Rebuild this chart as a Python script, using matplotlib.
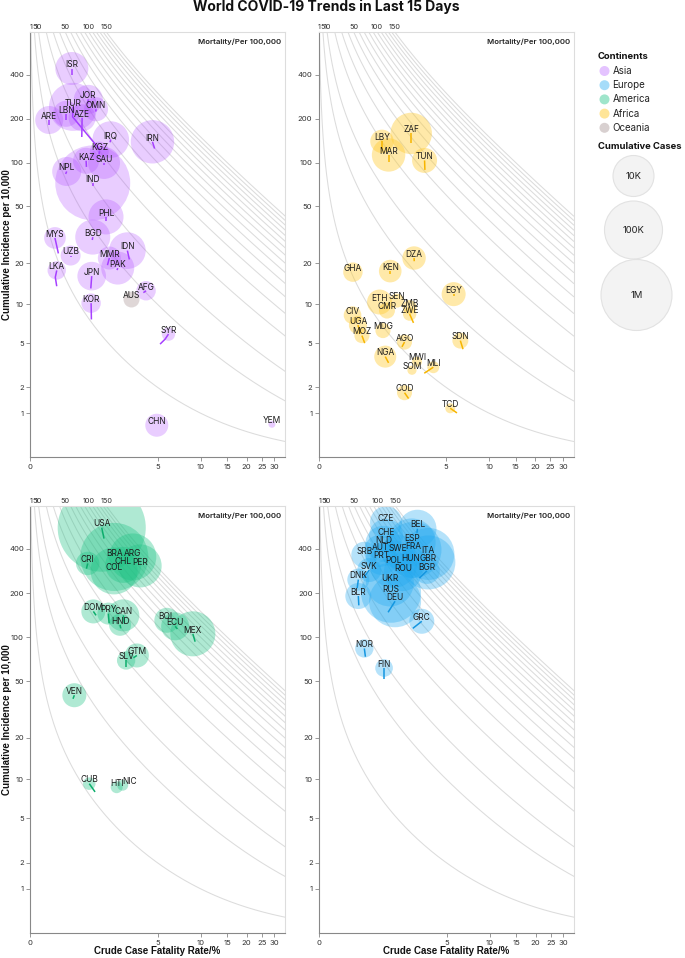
import numpy as np
import matplotlib
matplotlib.use("Agg")
import matplotlib.pyplot as plt
from matplotlib.patches import Circle

plt.rcParams['font.family'] = ['Inter', 'DejaVu Sans']

# ------------------------------------------------------------------ data
asia_codes = ["ISR", "JOR", "TUR", "OMN", "LBN", "AZE", "ARE", "IRQ", "IRN", "KGZ",
              "KAZ", "SAU", "NPL", "IND", "PHL", "MYS", "BGD", "UZB", "IDN", "MMR",
              "PAK", "LKA", "JPN", "AFG", "KOR", "SYR", "CHN", "YEM"]
asia_cfr = [0.80, 1.27, 0.83, 1.53, 0.66, 1.08, 0.31, 2.11, 4.59, 1.65,
            1.20, 1.83, 0.675, 1.415, 1.91, 0.42, 1.415, 0.77, 2.93, 2.05,
            2.43, 0.456, 1.38, 4.11, 1.36, 6.0, 4.94, 28.96]
asia_inc = [440, 271, 241, 232, 216, 203, 196, 144, 139, 120,
            103, 99.6, 87, 72.6, 42.2, 30.1, 30.5, 22.6, 24.5, 21.7,
            18.4, 17.7, 16.1, 12.6, 10.2, 5.9, 0.657, 0.682]
asia_cases = [430000, 273000, 1620000, 140000, 186000, 212000, 241000, 620000, 1130000, 61000,
              186000, 386000, 273000, 7800000, 530000, 97000, 530000, 73000, 620000, 120000,
              430000, 54000, 260000, 66000, 66000, 18000, 120000, 1800]
asia_cfr0 = [0.80, 1.245, 1.68, 1.52, 0.66, 1.07, 0.31, 2.08, 4.76, 1.64,
             1.21, 1.83, 0.65, 1.415, 1.91, 0.49, 1.40, 0.77, 3.04, 1.97,
             2.40, 0.456, 1.35, 3.92, 1.37, 5.22, 4.94, 28.96]
asia_inc0 = [398, 253, 122, 224, 196, 150, 182, 138, 125, 114,
             93.5, 95.9, 83.7, 69, 39.5, 23.4, 29.1, 22.0, 21.2, 19.3,
             17.8, 13.6, 13.1, 12.2, 7.68, 4.9, 0.657, 0.682]

oceania_codes = ["AUS"]
oceania_cfr = [3.16]
oceania_inc = [10.94]
oceania_cases = [33000]
oceania_cfr0 = [3.16]
oceania_inc0 = [10.94]

africa_codes = ["ZAF", "LBY", "MAR", "TUN", "DZA", "GHA", "KEN", "EGY", "ETH", "SEN",
                "CMR", "ZMB", "ZWE", "CIV", "UGA", "MOZ", "MDG", "AGO", "SDN", "NGA",
                "MWI", "MLI", "SOM", "COD", "TCD"]
africa_cfr = [2.68, 1.44, 1.677, 3.44, 2.83, 0.622, 1.74, 5.68, 1.358, 2.01,
              1.617, 2.6, 2.6, 0.613, 0.74, 0.841, 1.474, 2.35, 6.34, 1.555,
              2.99, 4.02, 2.72, 2.35, 5.37]
africa_inc = [158.6, 140, 113, 103.6, 21.7, 17.2, 17.5, 11.9, 10.4, 10.66,
              8.97, 9.53, 8.44, 8.29, 6.94, 5.74, 6.29, 5.09, 5.23, 3.85,
              3.48, 3.11, 2.92, 1.757, 1.162]
africa_cases = [960000, 128000, 450000, 161000, 128000, 66000, 113000, 140000, 161000, 21000,
                33000, 21000, 18000, 47000, 51000, 27000, 27000, 27000, 33000, 103000,
                6400, 12000, 4700, 27000, 6400]
africa_cfr0 = [2.68, 1.44, 1.677, 3.46, 2.84, 0.622, 1.74, 5.68, 1.358, 2.01,
               1.617, 2.6, 2.80, 0.613, 0.81, 0.915, 1.474, 2.23, 6.62, 1.677,
               2.99, 3.42, 2.72, 2.546, 6.0]
africa_inc0 = [136.7, 125, 101, 89.2, 20.6, 17.2, 16.8, 11.5, 10.4, 10.66,
               8.97, 9.53, 7.23, 8.29, 6.0, 4.99, 6.29, 4.65, 4.45, 3.4,
               3.48, 2.74, 2.92, 1.517, 1.009]

america_codes = ["USA", "BRA", "ARG", "CHL", "PER", "COL", "CRI", "DOM", "PRY", "CAN",
                 "HND", "BOL", "ECU", "MEX", "GTM", "SLV", "VEN", "CUB", "HTI", "NIC"]
america_cfr = [1.74, 2.27, 3.24, 2.71, 3.70, 2.26, 1.25, 1.436, 2.01, 2.71,
               2.546, 5.84, 6.69, 8.86, 3.49, 2.86, 0.865, 1.30, 2.38, 2.68]
america_inc = [556, 352, 352, 311, 306, 283, 318, 150, 145, 141,
               121.6, 130.5, 118.7, 105.5, 75, 69.3, 39.9, 9.3, 8.75, 9.06]
america_cases = [13800000, 5560000, 1500000, 587000, 1100000, 1500000, 128000, 140000, 103000, 386000,
                 103000, 161000, 241000, 1290000, 140000, 54000, 140000, 14000, 12000, 8900]
america_cfr0 = [1.83, 2.27, 3.24, 2.71, 3.70, 2.26, 1.21, 1.53, 2.04, 2.76,
                2.58, 5.84, 6.94, 9.18, 3.28, 2.86, 0.83, 1.495, 2.38, 2.68]
america_inc0 = [469, 352, 352, 311, 306, 283, 293, 141, 124.5, 124.5,
                115, 130.5, 113.8, 93.2, 72.3, 62.7, 37.7, 8.06, 8.75, 9.06]

europe_codes = ["CZE", "BEL", "CHE", "NLD", "ESP", "AUT", "SWE", "FRA", "SRB", "ITA",
                "PRT", "HUN", "GBR", "POL", "ROU", "BGR", "SVK", "DNK", "UKR", "BLR",
                "RUS", "DEU", "GRC", "NOR", "FIN"]
europe_cfr = [1.566, 2.99, 1.566, 1.47, 2.68, 1.358, 2.05, 2.77, 0.891, 3.65,
              1.415, 2.6, 3.65, 1.84, 2.245, 3.55, 1.028, 0.738, 1.71, 0.738,
              1.753, 1.912, 3.24, 0.891, 1.495]
europe_inc = [606, 547, 490, 432, 442, 387, 381, 393, 364, 369,
              341, 323, 323, 315, 278, 283, 287, 247, 236, 191,
              201, 176, 128.5, 83.8, 61.5]
europe_cases = [386000, 708000, 477000, 587000, 1600000, 386000, 477000, 2800000, 186000, 2150000,
                386000, 386000, 2450000, 1600000, 708000, 186000, 140000, 103000, 1600000, 186000,
                3550000, 2150000, 161000, 54000, 47000]
europe_cfr0 = [1.566, 2.96, 1.566, 1.47, 2.68, 1.358, 2.05, 2.77, 0.891, 3.65,
               1.415, 2.6, 3.65, 1.84, 2.245, 3.10, 0.865, 0.71, 1.71, 0.75,
               1.753, 1.64, 2.74, 0.92, 1.495]
europe_inc0 = [606, 513, 490, 432, 442, 387, 381, 393, 364, 369,
               341, 323, 323, 315, 278, 253, 253, 216, 236, 165,
               201, 148, 115, 73.5, 52]

trail_mid = {"TUR": (0.82, 206), "LKA": (0.427, 15.8), "SYR": (5.68, 5.38)}
label_dx = {"NIC": 7}

mort_levels = [1, 5, 10, 20, 30, 40, 50, 60, 70, 80, 90, 100, 110, 120, 130, 140, 150]
mort_labels = [1, 5, 10, 50, 100, 150]

x_ticks = [0, 5, 10, 15, 20, 25, 30]
y_ticks = [1, 2, 5, 10, 20, 50, 100, 200, 400]

continents = ["Asia", "Europe", "America", "Africa", "Oceania"]
legend_sizes = ["10K", "100K", "1M"]

XMAX, YMAX = 35, 780

# ------------------------------------------------------------------ styles
COL = {
    "Asia": ("#b04dff", 0.28, "#a640ff"),
    "Europe": ("#1fa8f0", 0.33, "#1496e0"),
    "America": ("#1cc283", 0.35, "#0cae6c"),
    "Africa": ("#ffcc33", 0.42, "#f7b500"),
    "Oceania": ("#b8a8a8", 0.45, "#9a8a8a"),
}

W, H = 685, 958
fig = plt.figure(figsize=(W / 100, H / 100), dpi=100)


def px_axes(left, top, right, bottom):
    return fig.add_axes([left / W, 1 - bottom / H, (right - left) / W, (bottom - top) / H])


def radius_px(c):
    return 0.42 * np.asarray(c, dtype=float) ** 0.283


def setup(ax):
    ax.set_xscale('function', functions=(np.log1p, np.expm1))
    ax.set_yscale('function', functions=(np.log1p, np.expm1))
    ax.set_xlim(0, XMAX)
    ax.set_ylim(0, YMAX)
    ax.set_xticks(x_ticks)
    ax.set_xticklabels([str(t) for t in x_ticks])
    ax.set_yticks(y_ticks)
    ax.set_yticklabels([str(t) for t in y_ticks])
    ax.minorticks_off()
    ax.tick_params(length=3, width=0.6, color='#888888', labelsize=5.5,
                   labelcolor='#333333', pad=1.5)
    for s in ['top', 'right']:
        ax.spines[s].set_color('#dddddd')
        ax.spines[s].set_linewidth(0.8)
    for s in ['left', 'bottom']:
        ax.spines[s].set_color('#888888')
        ax.spines[s].set_linewidth(0.8)
    for m in mort_levels:
        x = np.geomspace(10 * m / YMAX * 0.999, XMAX * 1.001, 400)
        ax.plot(x, 10 * m / x, color='#dcdcdc', lw=0.75, zorder=1)
    for m in mort_labels:
        ax.annotate(str(m), (10 * m / YMAX, YMAX), xytext=(0, 1.5), textcoords='offset points',
                    ha='center', va='bottom', fontsize=5.3, color='#333333',
                    annotation_clip=False)
    ax.text(0.985, 0.985, "Mortality/Per 100,000", transform=ax.transAxes, ha='right',
            va='top', fontsize=5.6, fontweight='semibold', color='#222222')


def draw_group(ax, cont, codes, cfr, inc, cases, cfr0, inc0):
    fc, alpha, lc = COL[cont]
    r = radius_px(cases)
    s = (2 * r * 0.72) ** 2
    ax.scatter(cfr, inc, s=s, color=fc, alpha=alpha, linewidths=0, zorder=2)
    for i, code in enumerate(codes):
        xs = [cfr0[i]]
        ys = [inc0[i]]
        if code in trail_mid:
            xs.append(trail_mid[code][0])
            ys.append(trail_mid[code][1])
        xs.append(cfr[i])
        ys.append(inc[i])
        if abs(xs[0] - xs[-1]) > 1e-9 or abs(ys[0] - ys[-1]) > 1e-9:
            ax.plot(xs, ys, color=lc, lw=1.1, zorder=3, solid_capstyle='butt')
    for i, code in enumerate(codes):
        ax.annotate(code, (cfr[i], inc[i]), xytext=(label_dx.get(code, 0) * 0.72, 0.9),
                    textcoords='offset points', ha='center', va='baseline',
                    fontsize=6, color='#1a1a1a', zorder=5)


ax1 = px_axes(30, 32, 285, 457.5)
ax2 = px_axes(318.5, 32, 573.5, 457.5)
ax3 = px_axes(30, 506, 285, 933.3)
ax4 = px_axes(319, 506, 574, 933.3)
for ax in (ax1, ax2, ax3, ax4):
    setup(ax)

draw_group(ax1, "Asia", asia_codes, asia_cfr, asia_inc, asia_cases, asia_cfr0, asia_inc0)
draw_group(ax1, "Oceania", oceania_codes, oceania_cfr, oceania_inc, oceania_cases,
           oceania_cfr0, oceania_inc0)
draw_group(ax2, "Africa", africa_codes, africa_cfr, africa_inc, africa_cases,
           africa_cfr0, africa_inc0)
draw_group(ax3, "America", america_codes, america_cfr, america_inc, america_cases,
           america_cfr0, america_inc0)
draw_group(ax4, "Europe", europe_codes, europe_cfr, europe_inc, europe_cases,
           europe_cfr0, europe_inc0)

# ------------------------------------------------------------------ texts
fig.text(326 / W, 1 - 7 / H, "World COVID-19 Trends in Last 15 Days", ha='center',
         va='center', fontsize=10, fontweight='bold', color='#111111')
for yc in (245, 720):
    fig.text(7 / W, 1 - yc / H, "Cumulative Incidence per 10,000", rotation=90,
             ha='center', va='center', fontsize=7, fontweight='bold',
             family=['Liberation Sans', 'DejaVu Sans'], color='#111111')
for xc in (157, 446):
    fig.text(xc / W, 1 - 951 / H, "Crude Case Fatality Rate/%", ha='center', va='center',
             fontsize=7, fontweight='bold', family=['Liberation Sans', 'DejaVu Sans'],
             color='#111111')

# ------------------------------------------------------------------ legend
lax = fig.add_axes([0, 0, 1, 1])
lax.set_xlim(0, W)
lax.set_ylim(H, 0)
lax.axis('off')
lax.text(598, 56, "Continents", ha='left', va='center', fontsize=6.8, fontweight='bold',
         color='#111111')
for i, cont in enumerate(continents):
    y = 71 + 14.2 * i
    fc, alpha, lc = COL[cont]
    lax.add_patch(Circle((604.5, y), 5, facecolor=fc, alpha=min(alpha * 1.2, 0.55),
                         edgecolor='none'))
    lax.text(612.5, y, cont, ha='left', va='center', fontsize=7, color='#222222')
lax.text(598, 146, "Cumulative Cases", ha='left', va='center', fontsize=6.8,
         fontweight='bold', color='#111111')
for lab, (cx, cy, rr) in zip(legend_sizes, [(633.5, 176, 20.5), (633.5, 230, 29),
                                             (636.5, 295, 35.5)]):
    lax.add_patch(Circle((cx, cy), rr, facecolor='#f3f3f3', edgecolor='#e2e2e2', lw=0.8))
    lax.text(cx, cy, lab, ha='center', va='center', fontsize=6.8, color='#222222')

fig.savefig("out.png", dpi=100)
